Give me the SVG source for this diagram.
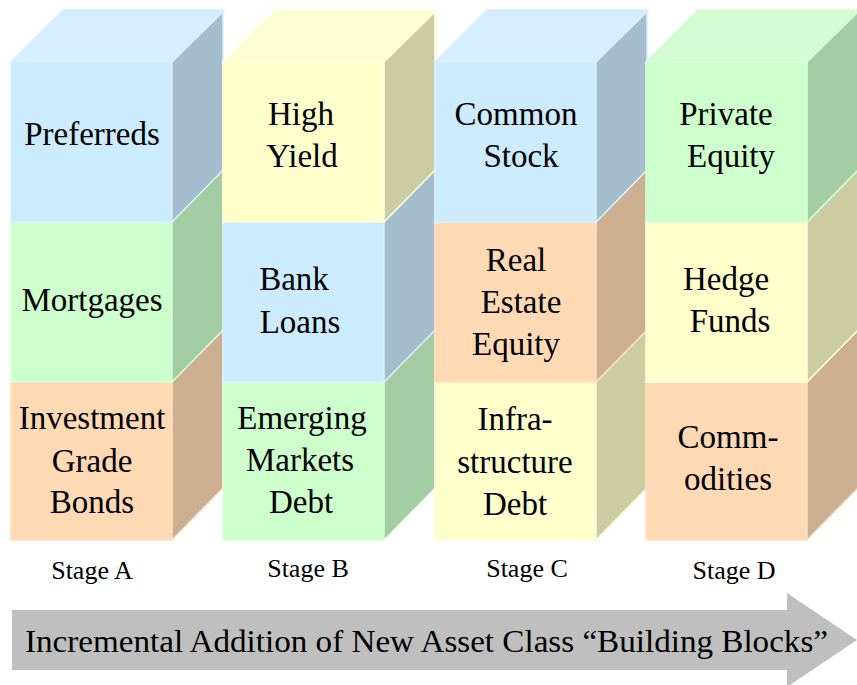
<svg xmlns="http://www.w3.org/2000/svg" width="857" height="685" viewBox="0 0 857 685">
<style>
.t{font-size:33px;fill:#000;text-anchor:middle}
.s{font-size:26px;fill:#000;text-anchor:middle}
.a{font-size:32px;fill:#000}
.bf{fill:#CCEBFF;stroke:#D6EFFF;stroke-width:1.5}
.bt{fill:#D5EEFD;stroke:#D6EFFF;stroke-width:1.5}
.bs{fill:#A3BDCD;stroke:#D6EFFF;stroke-width:1.5}
.gf{fill:#CCFFCC;stroke:#D6FFD6;stroke-width:1.5}
.gt{fill:#D3FCD3;stroke:#D6FFD6;stroke-width:1.5}
.gs{fill:#A3CCA3;stroke:#D6FFD6;stroke-width:1.5}
.pf{fill:#FED9B4;stroke:#FFE0C2;stroke-width:1.5}
.pt{fill:#FDDDBD;stroke:#FFE0C2;stroke-width:1.5}
.ps{fill:#CCAE90;stroke:#FFE0C2;stroke-width:1.5}
.yf{fill:#FFFFCC;stroke:#FFFFD6;stroke-width:1.5}
.yt{fill:#FDFDD3;stroke:#FFFFD6;stroke-width:1.5}
.ys{fill:#CCCCA3;stroke:#FFFFD6;stroke-width:1.5}
</style>
<rect width="857" height="685" fill="#fff"/>
<g font-family="'Liberation Serif', 'DejaVu Serif', serif">

<!-- Column A -->
<g id="col-a">
<g id="investment-grade-bonds">
<rect class="pf" x="11" y="382" width="161" height="158"/>
<polygon class="pt" points="11,382 62,330 223,330 172,382"/>
<polygon class="ps" points="172,382 223,330 223,488 172,540"/>
<text class="t" x="92" y="429">Investment</text>
<text class="t" x="92" y="472">Grade</text>
<text class="t" x="92" y="513">Bonds</text>
</g>
<g id="mortgages">
<rect class="gf" x="11" y="222" width="161" height="160"/>
<polygon class="gt" points="11,222 62,170 223,170 172,222"/>
<polygon class="gs" points="172,222 223,170 223,330 172,382"/>
<text class="t" x="92" y="311">Mortgages</text>
</g>
<g id="preferreds">
<rect class="bf" x="11" y="62" width="161" height="160"/>
<polygon class="bt" points="11,62 63,10 224,10 172,62"/>
<polygon class="bs" points="172,62 223,12 223,170 172,222"/>
<text class="t" x="92" y="145">Preferreds</text>
</g>
</g>

<!-- Column B -->
<g id="col-b">
<g id="emerging-markets-debt">
<rect class="gf" x="223" y="382" width="161" height="158"/>
<polygon class="gt" points="223,382 274,330 435,330 384,382"/>
<polygon class="gs" points="384,382 435,330 435,488 384,540"/>
<text class="t" x="302" y="429">Emerging</text>
<text class="t" x="300" y="471">Markets</text>
<text class="t" x="301" y="513">Debt</text>
</g>
<g id="bank-loans">
<rect class="bf" x="223" y="222" width="161" height="160"/>
<polygon class="bt" points="223,222 274,170 435,170 384,222"/>
<polygon class="bs" points="384,222 435,170 435,330 384,382"/>
<text class="t" x="294" y="290">Bank</text>
<text class="t" x="300" y="333">Loans</text>
</g>
<g id="high-yield">
<rect class="yf" x="223" y="62" width="161" height="160"/>
<polygon class="yt" points="223,62 276,10 436,10 384,62"/>
<polygon class="ys" points="384,62 435,12 435,170 384,222"/>
<text class="t" x="301" y="125">High</text>
<text class="t" x="302" y="167">Yield</text>
</g>
</g>

<!-- Column C -->
<g id="col-c">
<g id="infrastructure-debt">
<rect class="yf" x="435" y="382" width="161" height="158"/>
<polygon class="yt" points="435,382 486,330 647,330 596,382"/>
<polygon class="ys" points="596,382 647,330 647,488 596,540"/>
<text class="t" x="515" y="430">Infra-</text>
<text class="t" x="515" y="473">structure</text>
<text class="t" x="515" y="515">Debt</text>
</g>
<g id="real-estate-equity">
<rect class="pf" x="435" y="222" width="161" height="160"/>
<polygon class="pt" points="435,222 486,170 647,170 596,222"/>
<polygon class="ps" points="596,222 647,170 647,330 596,382"/>
<text class="t" x="516" y="271">Real</text>
<text class="t" x="521" y="313">Estate</text>
<text class="t" x="516" y="355">Equity</text>
</g>
<g id="common-stock">
<rect class="bf" x="435" y="62" width="161" height="160"/>
<polygon class="bt" points="435,62 487,10 648,10 596,62"/>
<polygon class="bs" points="596,62 647,12 647,170 596,222"/>
<text class="t" x="516" y="125">Common</text>
<text class="t" x="521" y="167">Stock</text>
</g>
</g>

<!-- Column D -->
<g id="col-d">
<g id="commodities">
<rect class="pf" x="646" y="382" width="161" height="158"/>
<polygon class="pt" points="646,382 697,330 858,330 807,382"/>
<polygon class="ps" points="807,382 858,330 858,488 807,540"/>
<text class="t" x="728" y="448">Comm-</text>
<text class="t" x="728" y="490">odities</text>
</g>
<g id="hedge-funds">
<rect class="yf" x="646" y="222" width="161" height="160"/>
<polygon class="yt" points="646,222 697,170 858,170 807,222"/>
<polygon class="ys" points="807,222 858,170 858,330 807,382"/>
<text class="t" x="726" y="290">Hedge</text>
<text class="t" x="730" y="332">Funds</text>
</g>
<g id="private-equity">
<rect class="gf" x="646" y="62" width="161" height="160"/>
<polygon class="gt" points="646,62 698,10 859,10 807,62"/>
<polygon class="gs" points="807,62 858,12 858,170 807,222"/>
<text class="t" x="726" y="125">Private</text>
<text class="t" x="731" y="167">Equity</text>
</g>
</g>

<!-- Stage labels -->
<g id="stage-labels">
<text class="s" x="92" y="579">Stage A</text>
<text class="s" x="308" y="577">Stage B</text>
<text class="s" x="527" y="577">Stage C</text>
<text class="s" x="734" y="579">Stage D</text>
</g>

<!-- Arrow -->
<g id="arrow">
<polygon points="12,610 787,610 787,593 857,640 787,687 787,670 12,670" fill="#BFBFBF"/>
<text class="a" x="25" y="652" textLength="803" lengthAdjust="spacingAndGlyphs">Incremental Addition of New Asset Class “Building Blocks”</text>
</g>
</g>
</svg>
